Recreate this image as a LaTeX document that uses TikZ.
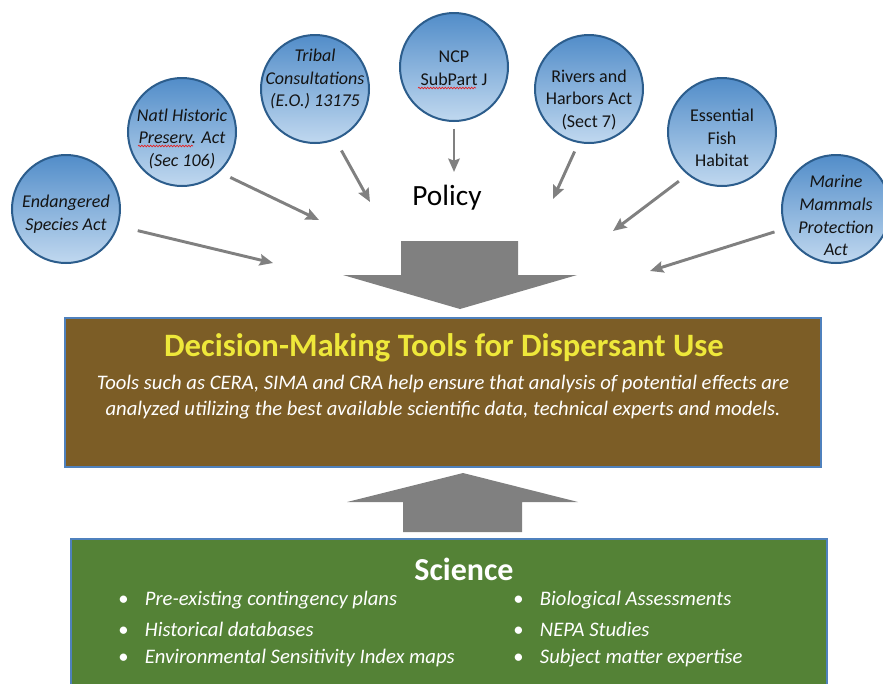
\documentclass[tikz,border=0pt]{standalone}
\usepackage{fontspec}
\setmainfont{Carlito}
\usepackage{tikz}
\usetikzlibrary{arrows.meta, positioning, decorations.pathmorphing}
\definecolor{circtop}{RGB}{82,141,201}
\definecolor{circbot}{RGB}{192,216,239}
\definecolor{circblue}{RGB}{44,93,140}
\definecolor{circtext}{RGB}{20,20,20}
\definecolor{arrgray}{RGB}{128,128,128}
\definecolor{dmbrown}{RGB}{124,93,38}
\definecolor{dmyellow}{RGB}{238,232,58}
\definecolor{scigreen}{RGB}{84,130,54}
\definecolor{panelblue}{RGB}{79,129,189}
\definecolor{squigred}{RGB}{230,30,30}
\tikzset{
  lawcirc/.style={circle, draw=circblue, line width=1.5pt,
    top color=circtop, bottom color=circbot, minimum size=81pt,
    inner sep=0pt},
  lawtext/.style={align=center, text=circtext, inner sep=0pt,
    font=\fontsize{13.5}{17}\selectfont},
  lawital/.style={lawtext, font=\itshape\fontsize{13.5}{17}\selectfont},
  polarrow/.style={-{Stealth[length=10pt, width=8.5pt, inset=1.5pt]},
    line width=2.2pt, color=arrgray},
  spellwave/.style={draw=squigred, line width=0.5pt,
    decorate, decoration={snake, segment length=2.2pt, amplitude=0.6pt}},
  bigarrow/.style={fill=arrgray},
  panel/.style={rectangle, draw=panelblue, line width=1.2pt,
    minimum width=567pt, inner sep=0pt},
  bulletitem/.style={anchor=west, inner sep=0pt, text=white,
    font=\itshape\fontsize{15.5}{18}\selectfont}
}

\begin{document}
\begin{tikzpicture}[x=0.75pt, y=-0.75pt]
  \useasboundingbox (0,0) rectangle (883,683);

  % Policy circles
  \node[lawcirc, label={[lawital, yshift=-3.75pt]center:Endangered\\Species Act}] (esa) at (66,209) {};
  \node[lawcirc, label={[lawital, yshift=-5pt]center:Natl Historic\\Preserv. Act\\(Sec 106)}] (nhpa) at (182,132) {};
  \node[lawcirc, label={[lawital, yshift=7.5pt]center:Tribal\\Consultations\\(E.O.) 13175}] (tcon) at (315,89) {};
  \node[lawcirc, label={[lawtext, yshift=-0.75pt]center:NCP\\SubPart J}] (ncp) at (454,67) {};
  \node[lawcirc, label={[lawtext, yshift=-8pt]center:Rivers and\\Harbors Act\\(Sect 7)}] (rha) at (589,89) {};
  \node[lawcirc, label={[lawtext, yshift=-4.5pt]center:Essential\\Fish\\Habitat}] (efh) at (722,132) {};
  \node[lawcirc, label={[lawital, yshift=-5pt]center:Marine\\Mammals\\Protection\\Act}] (mmpa) at (836,209) {};

  % spell-check marks
  \path[spellwave] ([shift={(-44,14)}]nhpa.center) -- ++(55,0);
  \path[spellwave] ([shift={(-36,21)}]ncp.center) -- ++(58,0);

  \node[font=\fontsize{22}{26}\selectfont] (policy) at (447,198) {Policy};

  % Arrow tips
  \coordinate (esa-tip) at (273,263);
  \coordinate (nhpa-tip) at (319,220);
  \coordinate (tcon-tip) at (370,202);
  \coordinate (ncp-tip) at (454,172);
  \coordinate (rha-tip) at (553,199);
  \coordinate (efh-tip) at (613,231);
  \coordinate (mmpa-tip) at (650,271);

  \draw[polarrow, shorten <=15pt] (esa.-18) -- (esa-tip);
  \draw[polarrow, shorten <=9pt] (nhpa.-47) -- (nhpa-tip);
  \draw[polarrow, shorten <=9pt] (tcon.-68) -- (tcon-tip);
  \draw[polarrow, shorten <=5pt] (ncp.south) -- (ncp-tip);
  \draw[polarrow, shorten <=7pt] (rha.-101) -- (rha-tip);
  \draw[polarrow, shorten <=8pt] (efh.-129) -- (efh-tip);
  \draw[polarrow, shorten <=8pt] (mmpa.-159) -- (mmpa-tip);

  % Block arrows
  \fill[bigarrow] (401,241) -- (518,241) -- (518,275) -- (577,275) -- (460,309)
    -- (343,275) -- (401,275) -- cycle;
  \fill[bigarrow] (403,532) -- (522,532) -- (522,502) -- (578,502) -- (463,473)
    -- (347,502) -- (403,502) -- cycle;

  % Decision-making tools
  \node[panel, fill=dmbrown, minimum height=112pt] (dmbox) at (443,392.5) {};
  \node[font=\bfseries\fontsize{24.5}{28}\selectfont, text=dmyellow] (dmtitle) at (444,348)
    {Decision-Making Tools for Dispersant Use};
  \node[font=\itshape\fontsize{15.5}{19.5}\selectfont, text=white, align=center] (dmtext) at (443,397)
    {Tools such as CERA, SIMA and CRA help ensure that analysis of potential effects are\\
     analyzed utilizing the best available scientific data, technical experts and models.};

  % Science
  \node[panel, fill=scigreen, minimum height=114pt] (scibox) at (449,615) {};
  \node[font=\bfseries\fontsize{24}{28}\selectfont, text=white] (sci) at (464,569) {Science};
  \node[bulletitem] (sci-a) at (118,600) {\makebox[20pt][l]{\upshape\textbullet}Pre-existing contingency plans};
  \node[bulletitem] (sci-b) at (118,629) {\makebox[20pt][l]{\upshape\textbullet}Historical databases};
  \node[bulletitem] (sci-c) at (118,658) {\makebox[20pt][l]{\upshape\textbullet}Environmental Sensitivity Index maps};
  \node[bulletitem] (sci-d) at (513,600) {\makebox[20pt][l]{\upshape\textbullet}Biological Assessments};
  \node[bulletitem] (sci-e) at (513,629) {\makebox[20pt][l]{\upshape\textbullet}NEPA Studies};
  \node[bulletitem] (sci-f) at (513,658) {\makebox[20pt][l]{\upshape\textbullet}Subject matter expertise};
\end{tikzpicture}
\end{document}
